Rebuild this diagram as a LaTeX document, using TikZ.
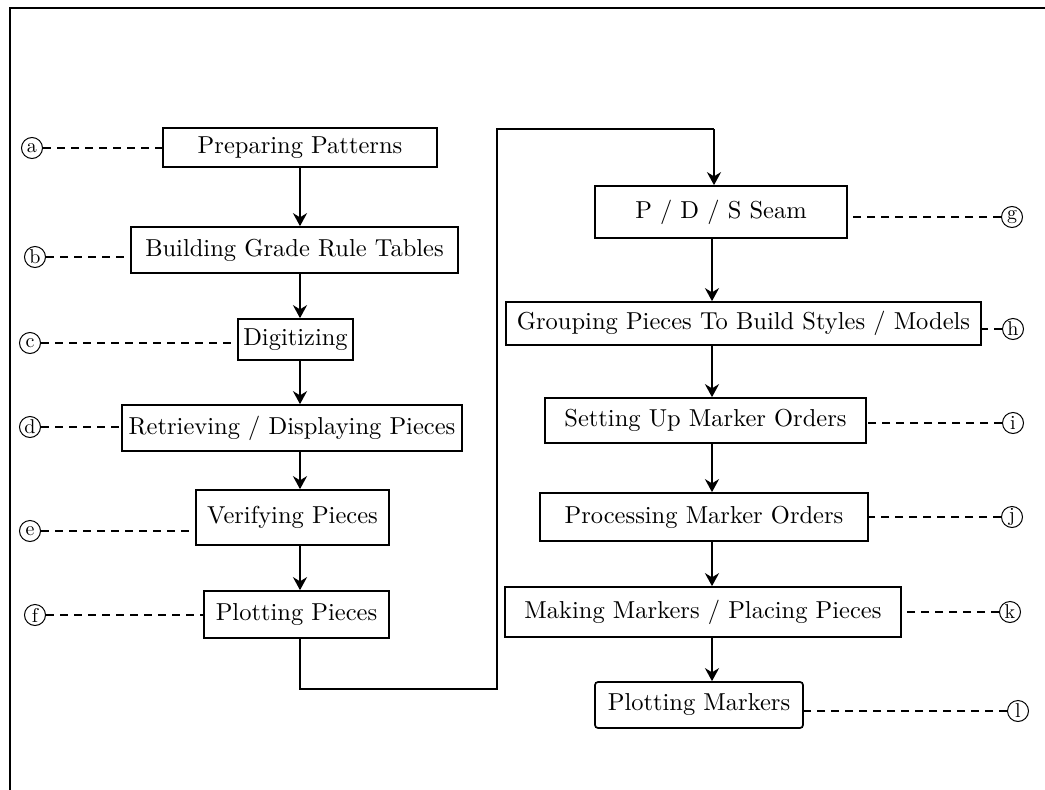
\documentclass[tikz,border=0pt]{standalone}
\usepackage{fontspec}
\setmainfont{lmroman10-regular}[Extension=.otf]
\usetikzlibrary{arrows.meta}
\begin{document}
\begin{tikzpicture}[x=1pt,y=-1pt,
  stepbox/.style={draw,line width=1.7pt,rectangle,inner sep=0pt,
    font=\fontsize{24.5}{29}\selectfont},
  tag/.style={draw,circle,line width=1pt,inner sep=0pt,minimum size=21pt,
    font=\fontsize{20}{20}\selectfont},
  flow/.style={line width=2.8pt,-{Stealth[length=13pt,width=14pt]}},
  link/.style={line width=1.4pt},
  leader/.style={line width=1.2pt,dash pattern=on 8pt off 6pt}]
\useasboundingbox (0,0) rectangle (1045,790);
% frame
\draw[line width=1.8pt] (10,790) -- (10,8) -- (1045,8);
% left column
\node[stepbox,minimum width=274pt,minimum height=39pt] (a) at (300,147.5) {Preparing Patterns};
\node[stepbox,minimum width=327pt,minimum height=46pt] (b) at (294.5,250) {Building Grade Rule Tables};
\node[stepbox,minimum width=115pt,minimum height=41pt] (c) at (295.5,339.5) {Digitizing};
\node[stepbox,minimum width=340pt,minimum height=46pt] (d) at (292,428) {Retrieving / Displaying Pieces};
\node[stepbox,minimum width=193pt,minimum height=55pt] (e) at (292.5,517.5) {Verifying Pieces};
\node[stepbox,minimum width=185pt,minimum height=47pt] (f) at (296.5,614.5) {Plotting Pieces};
% right column
\node[stepbox,minimum width=252pt,minimum height=52pt] (g) at (721,212) {P / D / S Seam};
\node[stepbox,minimum width=475pt,minimum height=43pt] (h) at (743.5,323.5) {Grouping Pieces To Build Styles / Models};
\node[stepbox,minimum width=321pt,minimum height=45pt] (i) at (705.5,420.5) {Setting Up Marker Orders};
\node[stepbox,minimum width=328pt,minimum height=48pt] (j) at (704,517) {Processing Marker Orders};
\node[stepbox,minimum width=396pt,minimum height=50pt] (k) at (703,612) {Making Markers / Placing Pieces};
\node[stepbox,rounded corners=3pt,minimum width=208pt,minimum height=46pt] (l) at (699,705) {Plotting Markers};
% tags
\node[tag] (ta) at (32,148) {a};
\node[tag] (tb) at (35,257) {b};
\node[tag] (tc) at (30,343) {c};
\node[tag] (td) at (30,427) {d};
\node[tag] (te) at (30,531) {e};
\node[tag] (tf) at (35,615) {f};
\node[tag] (tg) at (1012,217) {g};
\node[tag] (th) at (1013,329) {h};
\node[tag] (ti) at (1013,423) {i};
\node[tag] (tj) at (1012,517) {j};
\node[tag] (tk) at (1010,612) {k};
\node[tag] (tl) at (1018,711) {l};
% leaders
\draw[leader] (ta.east) -- (ta.east -| a.west);
\draw[leader] (tb.east) -- (tb.east -| b.west);
\draw[leader] (tc.east) -- (tc.east -| c.west);
\draw[leader] (td.east) -- (td.east -| d.west);
\draw[leader] (te.east) -- (te.east -| e.west);
\draw[leader] (tf.east) -- (tf.east -| f.west);
\draw[leader] (tg.west) -- (tg.west -| g.east);
\draw[leader] (th.west) -- (th.west -| h.east);
\draw[leader] (ti.west) -- (ti.west -| i.east);
\draw[leader] (tj.west) -- (tj.west -| j.east);
\draw[leader] (tk.west) -- (tk.west -| k.east);
\draw[leader] (tl.west) -- (tl.west -| l.east);
% left flow
\coordinate (lc) at (300,0);
\coordinate (rc) at (712,0);
\draw[flow] (lc |- a.south) -- (lc |- b.north);
\draw[flow] (lc |- b.south) -- (lc |- c.north);
\draw[flow] (lc |- c.south) -- (lc |- d.north);
\draw[flow] (lc |- d.south) -- (lc |- e.north);
\draw[flow] (lc |- e.south) -- (lc |- f.north);
% crossover
\coordinate (p1) at (300,689);
\coordinate (p2) at (497,689);
\coordinate (p3) at (497,129);
\coordinate (p4) at (714,129);
\draw[link] (lc |- f.south) -- (p1) -- (p2) -- (p3) -- (p4);
\draw[flow] (p4) -- (p4 |- g.north);
% right flow
\draw[flow] (rc |- g.south) -- (rc |- h.north);
\draw[flow] (rc |- h.south) -- (rc |- i.north);
\draw[flow] (rc |- i.south) -- (rc |- j.north);
\draw[flow] (rc |- j.south) -- (rc |- k.north);
\draw[flow] (rc |- k.south) -- (rc |- l.north);
\end{tikzpicture}
\end{document}
